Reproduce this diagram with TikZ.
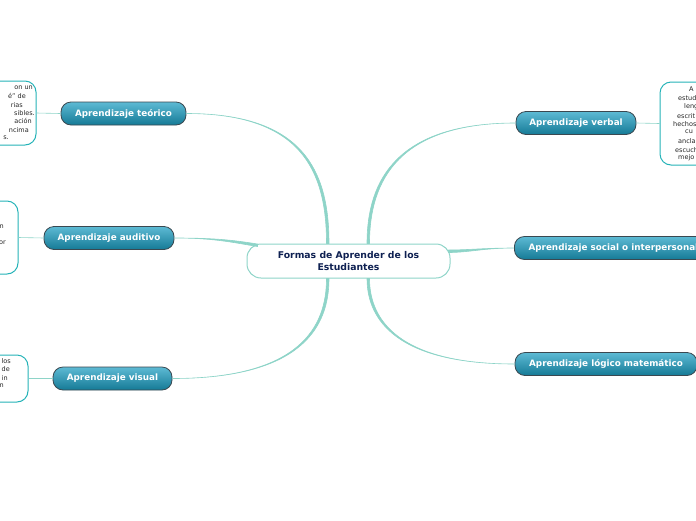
\documentclass[tikz,border=0pt]{standalone}
\usepackage{fontspec}
\setmainfont{DejaVu Sans}
\usepackage{xcolor}
\usepackage{tikz}
\definecolor{linie}{HTML}{8ED4C8}
\definecolor{rahmen}{HTML}{25B3B8}
\definecolor{knotoben}{HTML}{5DBAD4}
\definecolor{knotunten}{HTML}{157A96}
\definecolor{knotrand}{HTML}{3A4850}
\definecolor{titel}{HTML}{0F2152}

\begin{document}
\begin{tikzpicture}[x=1pt, y=-1pt,
    zweig/.style={rounded corners=10pt, draw=knotrand, line width=0.8pt,
      top color=knotoben, bottom color=knotunten, text=white,
      font=\fontsize{8.8}{10}\selectfont\bfseries, minimum height=23pt, inner xsep=0pt},
    notiz/.style={draw=rahmen, line width=1pt, fill=white, rounded corners=11pt},
    frag/.style={font=\fontsize{6.5}{7}\selectfont, text=black!85, inner sep=0pt},
    ast/.style={fill=linie, draw=linie, line width=0.6pt, line join=round}
]
  \useasboundingbox (0,0) rectangle (696,520);
  \clip (0,0) rectangle (696,520);

  % Hauptthema
  \node[draw=linie, line width=1pt, fill=white, rounded corners=14pt,
        minimum width=203pt, minimum height=34pt, text=titel, align=center,
        font=\fontsize{9.3}{12}\selectfont\bfseries] (zentrum) at (348.5,261)
        {Formas de Aprender de los\\Estudiantes};

  % Zweige links
  \node[zweig, minimum width=125pt] (teorico) at (123.5,113.5) {Aprendizaje teórico};
  \node[zweig, minimum width=130pt] (auditivo) at (109,238) {Aprendizaje auditivo};
  \node[zweig, minimum width=119pt] (visual) at (112.5,378.5) {Aprendizaje visual};

  % Zweige rechts
  \node[zweig, minimum width=120pt] (verbal) at (576,123) {Aprendizaje verbal};
  \node[zweig, minimum width=198pt, anchor=west] (sozial) at (514,248) {Aprendizaje social o interpersonal};
  \node[zweig, minimum width=182pt] (logico) at (606,364) {Aprendizaje lógico matemático};

  % Verbindungen zum Hauptthema (als Flaeche, zur Mitte hin breiter)
  \path[ast] (teorico.east) .. controls +(114,0) and +(0,-74) .. ([xshift=-22pt]zentrum.north)
    -- ([xshift=-19.5pt]zentrum.north) .. controls +(0,-74) and +(116,0) .. (teorico.east);
  \path[ast] (auditivo.east) .. controls +(40,0) and +(-25,-4) .. ([xshift=11pt,yshift=-0.5pt]zentrum.north west)
    -- ([xshift=11pt,yshift=-3pt]zentrum.north west) .. controls +(-25,-4) and +(40,0) .. (auditivo.east);
  \path[ast] (visual.east) .. controls +(128,0) and +(0,48) .. ([xshift=-22pt]zentrum.south)
    -- ([xshift=-19.5pt]zentrum.south) .. controls +(0,48) and +(130,0) .. (visual.east);
  \path[ast] (verbal.west) .. controls +(-116,0) and +(0,-64) .. ([xshift=21pt]zentrum.north)
    -- ([xshift=18.5pt]zentrum.north) .. controls +(0,-64) and +(-118,0) .. (verbal.west);
  \path[ast] (sozial.west) .. controls +(-30,0) and +(20,0) .. ([xshift=-2pt,yshift=11pt]zentrum.east)
    -- ([xshift=-2pt,yshift=8.5pt]zentrum.east) .. controls +(20,0) and +(-30,0) .. (sozial.west);
  \path[ast] (logico.west) .. controls +(-115,0) and +(0,42) .. ([xshift=21pt]zentrum.south)
    -- ([xshift=18.5pt]zentrum.south) .. controls +(0,42) and +(-117,0) .. (logico.west);

  % Notizen am Rand
  \node[notiz, minimum width=80pt, minimum height=64pt] (notizT) at (-4,113) {};
  \node[notiz, minimum width=80pt, minimum height=73pt] (notizA) at (-22,237.5) {};
  \node[notiz, minimum width=80pt, minimum height=47pt] (notizV) at (-12,378.5) {};
  \node[notiz, minimum width=80pt, minimum height=83pt] (notizB) at (700,123.5) {};

  \draw[draw=linie, line width=0.6pt] (notizT.east) -- (teorico.west);
  \draw[draw=linie, line width=0.6pt] (notizA.east) -- (auditivo.west);
  \draw[draw=linie, line width=0.6pt] (notizV.east) -- (visual.west);
  \draw[draw=linie, line width=0.6pt] (verbal.east) -- (notizB.west);

  % Text in den Notizen (vom Rand abgeschnitten)
  \foreach \x/\y/\t [count=\i] in {33/88/on un, 26/96.3/é” de, 23/104.7/rias,
      35/113/sibles., 32/121.3/ación, 29/129.7/ncima, 9/138/s.}
    \node[frag, anchor=east] (fT\i) at (\x,\y) {\t};
  \foreach \x/\y/\t [count=\i] in {4/227/n, 6/243/or}
    \node[frag, anchor=east] (fA\i) at (\x,\y) {\t};
  \foreach \x/\y/\t [count=\i] in {11/361/los, 10/369.3/de, 8/377.6/in, 4/386/n}
    \node[frag, anchor=east] (fV\i) at (\x,\y) {\t};
  \foreach \x/\y/\t [count=\i] in {689/89/A, 678/98/estud, 684/107/leng, 677/116/escrit,
      673/124/hechos, 685/132/cu, 678/141/ancla, 675/150/escuch, 678/158/mejo}
    \node[frag, anchor=west] (fB\i) at (\x,\y) {\t};

\end{tikzpicture}
\end{document}
